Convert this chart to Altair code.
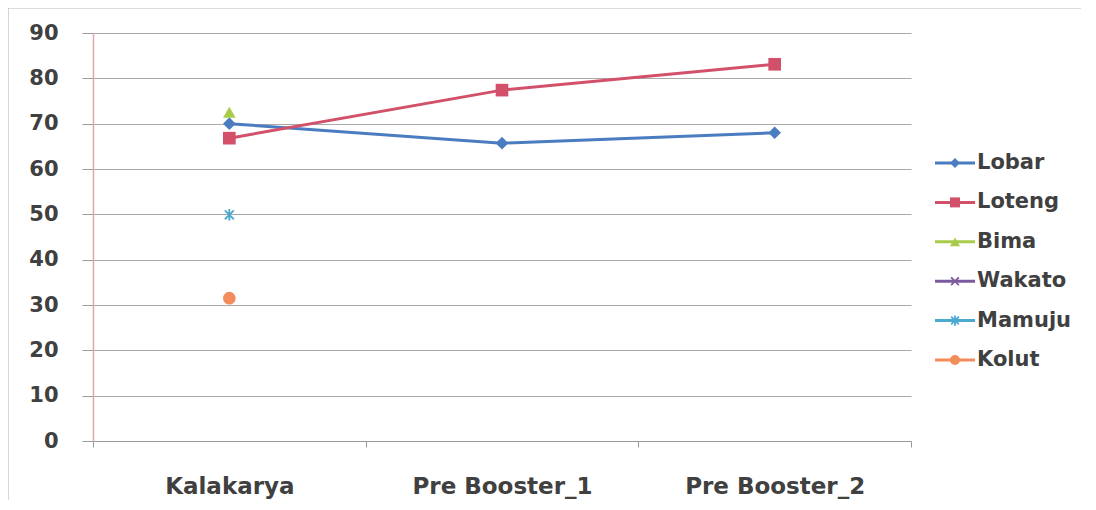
import altair as alt
import pandas as pd

categories = ["Kalakarya", "Pre Booster_1", "Pre Booster_2"]
series = ["Lobar", "Loteng", "Bima", "Wakato", "Mamuju", "Kolut"]
lobar = [70.0, 65.7, 68.0]
loteng = [66.8, 77.4, 83.1]
bima = [72.5, None, None]
wakato = [None, None, None]
mamuju = [49.9, None, None]
kolut = [31.5, None, None]

colors = ["#4A7CC0", "#D2506A", "#A8CC4A", "#7D5A9E", "#4BA9D0", "#F28C5A"]
shapes = [
    "diamond",
    "square",
    "triangle-up",
    "M-1,-1L1,1M-1,1L1,-1",
    "M-1,-1L1,1M-1,1L1,-1M0,-1.3L0,1.3",
    "circle",
]
filled_series = ["Lobar", "Loteng", "Bima", "Kolut"]
stroked_series = ["Wakato", "Mamuju"]

values = [lobar, loteng, bima, wakato, mamuju, kolut]
rows = []
for s, vals in zip(series, values):
    for c, v in zip(categories, vals):
        if v is not None:
            rows.append({"series": s, "category": c, "value": v})
df = pd.DataFrame(rows)
legend_df = pd.DataFrame({"series": series})
frame_df = pd.DataFrame({"k": [0]})

FONT = "DejaVu Sans"
TXT = "#404040"
W, H = 818, 408

color = alt.Color("series:N", scale=alt.Scale(domain=series, range=colors), legend=None)
shape = alt.Shape("series:N", scale=alt.Scale(domain=series, range=shapes), legend=None)

x = alt.X(
    "category:N",
    sort=categories,
    scale=alt.Scale(type="band", domain=categories, paddingInner=0, paddingOuter=0),
    axis=alt.Axis(
        title=None, labelAngle=0, labelFont=FONT, labelFontSize=23, labelFontWeight="bold",
        labelColor=TXT, labelPadding=28, labelLimit=0, tickBand="extent", tickSize=6,
        tickColor="#999999", domainColor="#999999", domainWidth=1.2, grid=False,
    ),
)
y = alt.Y(
    "value:Q",
    scale=alt.Scale(domain=[0, 90], nice=False),
    axis=alt.Axis(
        title=None, values=list(range(0, 100, 10)), labelFont=FONT, labelFontSize=21,
        labelFontWeight="bold", labelColor=TXT, labelPadding=24, tickSize=11,
        tickColor="#999999", domainColor="#E3A6AE", domainWidth=1.5,
        gridColor="#A9A9A9", gridWidth=1,
    ),
)

base = alt.Chart(df)
lines = base.mark_line(strokeWidth=3).encode(x=x, y=y, color=color, detail="series:N")
filled = base.transform_filter(
    alt.FieldOneOfPredicate(field="series", oneOf=filled_series)
).mark_point(filled=True, size=160, opacity=1).encode(x=x, y=y, color=color, shape=shape)
stroked = base.transform_filter(
    alt.FieldOneOfPredicate(field="series", oneOf=stroked_series)
).mark_point(filled=False, size=80, strokeWidth=1.8, opacity=1).encode(x=x, y=y, color=color, shape=shape)
main = alt.layer(lines, filled, stroked)

ly = alt.Y("series:N", scale=alt.Scale(type="point", domain=series, range=[130, 327], padding=0), axis=None)
lbase = alt.Chart(legend_df)
leg_line = lbase.mark_rule(strokeWidth=3).encode(
    x=alt.value(W + 24), x2=alt.value(W + 64), y=ly, color=color
)
leg_pt_f = lbase.transform_filter(
    alt.FieldOneOfPredicate(field="series", oneOf=filled_series)
).mark_point(filled=True, size=100, opacity=1).encode(x=alt.value(W + 44), y=ly, color=color, shape=shape)
leg_pt_s = lbase.transform_filter(
    alt.FieldOneOfPredicate(field="series", oneOf=stroked_series)
).mark_point(filled=False, size=60, strokeWidth=1.8, opacity=1).encode(x=alt.value(W + 44), y=ly, color=color, shape=shape)
leg_txt = lbase.mark_text(
    align="left", baseline="middle", font=FONT, fontSize=21, fontWeight="bold", color=TXT
).encode(x=alt.value(W + 66), y=ly, text="series:N")
legend = alt.layer(leg_line, leg_pt_f, leg_pt_s, leg_txt)

frame_top = alt.Chart(frame_df).mark_rule(color="#BBBBBB", strokeWidth=1.2).encode(
    x=alt.value(-85), x2=alt.value(1085 - 93), y=alt.value(-25)
)
frame_left = alt.Chart(frame_df).mark_rule(color="#BBBBBB", strokeWidth=1.2).encode(
    x=alt.value(-85), y=alt.value(-25), y2=alt.value(500 - 33)
)

chart = (
    alt.layer(main, legend, frame_top, frame_left)
    .resolve_scale(y="independent")
    .properties(
        width=W, height=H,
        autosize=alt.AutoSizeParams(type="none"),
        padding={"left": 85, "top": 25, "right": 170, "bottom": 60},
        background="white",
    )
    .configure_view(stroke=None)
)

chart.save("out.html", embed_options={"renderer": "svg", "actions": False})
